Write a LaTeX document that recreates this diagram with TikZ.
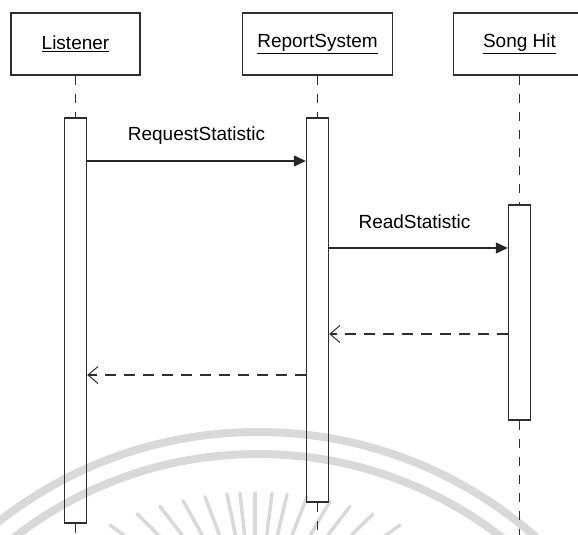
\documentclass[tikz,border=0pt]{standalone}
\usepackage{fontspec}
\setmainfont{Liberation Sans}
\usetikzlibrary{arrows.meta}
\begin{document}
\begin{tikzpicture}[x=1pt,y=-1pt,
  ink/.style={draw=black!82, line width=1.4pt},
  head/.style={ink, minimum width=#1, minimum height=62pt, inner sep=0pt,
    font=\fontsize{19}{22}\selectfont},
  act/.style={ink, minimum width=22pt, minimum height=#1, inner sep=0pt},
  life/.style={draw=black!82, line width=1.6pt, dash pattern=on 9pt off 9pt},
  call/.style={draw=black!85, line width=1.2pt, -{Triangle[length=12pt,width=11pt]}},
  reply/.style={draw=black!82, line width=1.2pt, dash pattern=on 11pt off 8pt,
    -{Straight Barb[length=10pt,width=17pt,line width=1pt]}},
  lbl/.style={font=\fontsize{19}{22}\selectfont, anchor=base, inner sep=0pt},
  wm/.style={draw=black!15, line width=8pt},
  wmray/.style={draw=black!15, line width=3.5pt, line cap=round}
]
\useasboundingbox (0,0) rectangle (578,535);
\clip (0,0) rectangle (578,535);

% faint watermark of the scan
\draw[wm] (258,852) circle[radius=420pt];
\draw[wm] (258,852) circle[radius=398pt];
\foreach \x in {110,137,160,183,205,227,240,255,272,287,307,330,350,373,400}{
  \pgfmathsetmacro{\rr}{(\x-255)/344}
  \pgfmathsetmacro{\ty}{837-344*sqrt(1-\rr*\rr)}
  \pgfmathsetmacro{\bx}{\x+0.7*(255-\x)}
  \pgfmathsetmacro{\by}{\ty+0.7*(630-\ty)}
  \draw[wmray] (\x,\ty) -- (\bx,\by);
}

% heads
\node[head=129pt] (hL) at (75.5,44) {\underline{Listener}};
\node[head=150pt] (hR) at (317.5,44) {\underline{ReportSystem}};
\node[head=132pt] (hS) at (519.5,44) {\underline{Song Hit}};

% activations
\node[act=405pt] (aL) at (75.5,320.5) {};
\node[act=384pt] (aR) at (317.5,310) {};
\node[act=215pt] (aS) at (519.5,312.5) {};

% lifeline ends
\coordinate (eL) at (75.5,545);
\coordinate (eR) at (317.5,545);
\coordinate (eS) at (519.5,545);

\draw[life] (hL.south) -- (aL.north);
\draw[life] (hR.south) -- (aR.north);
\draw[life] (hS.south) -- (aS.north);
\draw[life] (aL.south) -- (eL);
\draw[life] (aR.south) -- (eR);
\draw[life] (aS.south) -- (eS);

% message levels
\coordinate (m1) at (0,161);
\coordinate (m2) at (0,248);
\coordinate (m3) at (0,334);
\coordinate (m4) at (0,375);

\draw[call] (aL.east |- m1) -- (aR.west |- m1)
  node[lbl, midway, yshift=21pt] (t1) {RequestStatistic};
\draw[call] (aR.east |- m2) -- (aS.west |- m2)
  node[lbl, midway, xshift=-4pt, yshift=20pt] (t2) {ReadStatistic};
\draw[reply] (aS.west |- m3) -- (aR.east |- m3);
\draw[reply] (aR.west |- m4) -- (aL.east |- m4);
\end{tikzpicture}
\end{document}
